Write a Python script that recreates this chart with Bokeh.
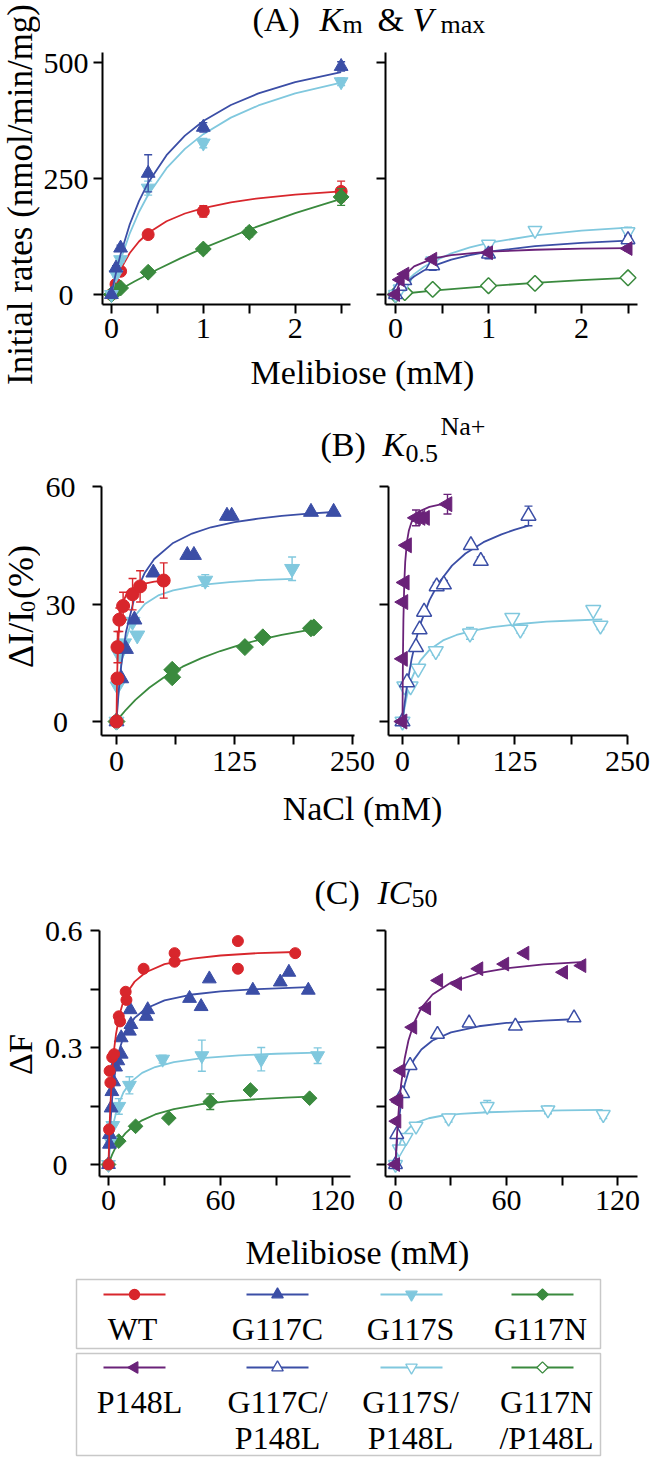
import math
from bokeh.plotting import figure
from bokeh.layouts import row, column
from bokeh.models import Range1d, FixedTicker
from bokeh.core.properties import value
from bokeh.embed import file_html
from bokeh.resources import INLINE

SERIF = "Liberation Serif"
RED = "#d8262c"
BLUE = "#3b4ea6"
LBLUE = "#80c8de"
GREEN = "#3a8a3e"
PURPLE = "#6a2279"

# ---------------- (A) Km & Vmax ----------------
A_xticks = [0, 1, 2]
A_xminor = [0.5, 1.5, 2.5]
A_yticks = [0, 250, 500]
A_ylabels = ["0\u00a0\u00a0", "250", "500"]

A_wt_x = [0, 0.05, 0.1, 0.4, 1.0, 2.5]
A_wt_y = [0, 22, 50, 129, 179, 222]
A_wt_e = [0, 4, 5, 8, 12, 22]
A_wt_fx = [0, 0.025, 0.05, 0.1, 0.2, 0.3, 0.4, 0.6, 0.8, 1.0, 1.3, 1.6, 2.0, 2.5]
A_wt_fy = [0, 16.1, 30.4, 54.3, 89.5, 114.2, 132.5, 157.7, 174.4, 186.1, 198.5, 207.1, 215.2, 222.1]

A_c_x = [0, 0.05, 0.1, 0.4, 1.0, 2.5]
A_c_y = [0, 57, 100, 261, 360, 491]
A_c_e = [0, 5, 6, 40, 10, 10]
A_c_fx = [0, 0.025, 0.05, 0.1, 0.2, 0.3, 0.4, 0.6, 0.8, 1.0, 1.3, 1.6, 2.0, 2.5]
A_c_fy = [0, 24.4, 46.8, 86.8, 151.3, 201.1, 240.8, 300, 342, 373.4, 408, 433, 457.4, 478.9]

A_s_x = [0, 0.05, 0.1, 0.4, 1.0, 2.5]
A_s_y = [0, 43, 75, 229, 326, 458]
A_s_e = [0, 5, 5, 15, 10, 8]
A_s_fx = [0, 0.025, 0.05, 0.1, 0.2, 0.3, 0.4, 0.6, 0.8, 1.0, 1.3, 1.6, 2.0, 2.5]
A_s_fy = [0, 20.6, 39.7, 74.4, 131.8, 177.6, 214.8, 271.9, 313.5, 345.2, 380.8, 407, 432.8, 456]

A_n_x = [0, 0.05, 0.1, 0.4, 1.0, 1.5, 2.5]
A_n_y = [0, 7, 14, 48, 98, 134, 210]
A_n_e = [0, 2, 3, 4, 8, 10, 18]
A_n_fx = [0, 0.1, 0.25, 0.5, 0.75, 1.0, 1.5, 2.0, 2.5]
A_n_fy = [0, 11.5, 28, 53.8, 77.8, 100, 140, 175, 205.9]

A_p_x = [0, 0.05, 0.1, 0.4, 1.0, 2.5]
A_p_y = [0, 32, 44, 76, 90, 99]
A_p_e = [0, 3, 3, 5, 5, 5]
A_p_fx = [0, 0.02, 0.05, 0.1, 0.2, 0.4, 0.6, 1.0, 1.5, 2.0, 2.5]
A_p_fy = [0, 12.5, 26.5, 42.4, 60.6, 77.1, 84.8, 92.2, 96.4, 98.6, 100]

A_cp_x = [0, 0.05, 0.1, 0.4, 1.0, 2.5]
A_cp_y = [0, 18, 30, 62, 87, 118]
A_cp_e = [0, 4, 4, 10, 10, 8]
A_cp_fx = [0, 0.05, 0.1, 0.2, 0.3, 0.4, 0.6, 0.8, 1.0, 1.5, 2.0, 2.5]
A_cp_fy = [0, 12.3, 22.6, 38.9, 51.2, 60.9, 75, 84.8, 92.1, 104, 111.1, 115.9]

A_sp_x = [0, 0.05, 0.1, 0.4, 1.0, 1.5, 2.5]
A_sp_y = [0, 12, 24, 72, 108, 138, 135]
A_sp_e = [0, 3, 4, 6, 8, 4, 10]
A_sp_fx = [0, 0.05, 0.1, 0.2, 0.3, 0.4, 0.6, 0.8, 1.0, 1.5, 2.0, 2.5]
A_sp_fy = [0, 13.4, 25, 43.9, 58.7, 70.6, 88.5, 101.4, 111.1, 127.4, 137.4, 144.2]

A_np_x = [0, 0.1, 0.4, 1.0, 1.5, 2.5]
A_np_y = [0, 4, 11, 19, 24, 36]
A_np_e = [0, 2, 2, 4, 3, 3]
A_np_fx = [0, 0.1, 0.4, 1.0, 1.5, 2.0, 2.5]
A_np_fy = [0, 2.2, 8.2, 18.2, 25, 30.8, 35.7]

# ---------------- (B) K0.5 Na+ ----------------
B_xticks = [0, 125, 250]
B_xminor = [62.5, 187.5]
B_yticks = [0, 30, 60]
B_ylabels = ["0\u00a0", "30", "60"]

B_wt_x = [0, 1, 1, 3, 7, 17, 25, 50]
B_wt_y = [0, 11, 19, 26, 29.5, 32.5, 34.5, 36]
B_wt_e = [0, 1, 4, 3, 3.5, 4, 4, 4.5]
B_wt_fx = [0, 0.25, 0.5, 1, 2, 3, 5, 7, 10, 15, 20, 30, 40, 50]
B_wt_fy = [0, 5.3, 9.25, 14.8, 21.1, 24.7, 28.5, 30.5, 32.2, 33.6, 34.4, 35.2, 35.7, 35.9]

B_c_x = [0, 5, 10, 19, 39, 75, 82, 117, 122, 206, 230]
B_c_y = [0, 11, 18.5, 26, 38, 42.5, 42.5, 52.5, 52.5, 53.5, 53.5]
B_c_fx = [0, 1, 2.5, 5, 10, 20, 30, 40, 60, 80, 100, 125, 150, 175, 200, 230]
B_c_fy = [0, 3.56, 8.14, 14.25, 22.8, 32.6, 38, 41.5, 45.6, 48, 49.6, 50.9, 51.8, 52.5, 53, 53.5]

B_s_x = [0, 1, 3, 8, 17, 22, 94, 186]
B_s_y = [0, 9, 17, 20, 25.5, 22, 36, 39]
B_s_e = [0, 0, 0, 0, 0, 0, 1.5, 3]
B_s_fx = [0, 1, 2.5, 5, 10, 15, 20, 30, 45, 60, 90, 120, 150, 186]
B_s_fy = [0, 4.2, 9.05, 14.6, 21.1, 24.8, 27.1, 30, 32.3, 33.5, 34.9, 35.6, 36.1, 36.4]

B_n_x = [0, 59, 59, 136, 155, 206, 209]
B_n_y = [0, 13.2, 11.3, 19, 21.5, 23.8, 24]
B_n_fx = [0, 5, 10, 20, 35, 50, 70, 90, 110, 130, 150, 175, 200, 209]
B_n_fy = [0, 1.57, 3, 5.54, 8.69, 11.25, 14, 16.2, 18, 19.5, 20.8, 22.1, 23.2, 23.6]

B_p_x = [0, 0.5, 1, 2.5, 5, 15, 20, 25, 50]
B_p_y = [0, 16, 30.5, 35.5, 45, 52, 52, 52, 55.5]
B_p_e = [0, 0, 0, 0, 0, 2, 0, 0, 2.5]
B_p_fx = [0, 0.25, 0.5, 1, 2, 3, 5, 7, 10, 15, 20, 30, 40, 50]
B_p_fy = [0, 9.8, 16.8, 25.9, 35.6, 40.7, 46, 48.7, 50.9, 52.8, 53.8, 54.8, 55.3, 55.7]

B_cp_x = [0, 5, 15, 19, 24, 38, 46, 76, 87, 140]
B_cp_y = [0, 10, 19, 23.5, 28, 34.5, 35, 45, 41, 52.5]
B_cp_e = [0, 0, 0, 0, 0, 1, 1, 0, 1, 2.5]
B_cp_fx = [0, 2, 5, 10, 15, 20, 30, 40, 55, 70, 90, 110, 125, 140]
B_cp_fy = [0, 4, 9.1, 15.8, 20.9, 25, 31, 35.3, 39.8, 42.9, 45.8, 47.8, 49, 50]

B_sp_x = [0, 2, 9, 17.5, 37, 75, 122, 131, 212, 220]
B_sp_y = [0, 9, 9, 13.5, 18, 22.5, 26.5, 23.5, 28.5, 24.5]
B_sp_e = [0, 0, 0, 0, 1, 1.5, 0, 1, 0, 1]
B_sp_fx = [0, 2, 5, 10, 15, 20, 30, 45, 60, 80, 100, 130, 160, 190, 222]
B_sp_fy = [0, 3.1, 6.7, 10.8, 13.5, 15.6, 18.3, 20.7, 22.1, 23.3, 24.1, 24.9, 25.5, 25.8, 26.1]

# ---------------- (C) IC50 ----------------
C_xticks = [0, 60, 120]
C_xminor = [30, 90]
C_yticks = [0, 0.3, 0.6]
C_yminor = [0.15, 0.45]
C_ylabels = ["0\u00a0\u00a0", "0.3", "0.6"]

C_wt_x = [0, 0.3, 0.6, 1, 2, 3, 5.5, 6.2, 9.2, 9.6, 18.8, 35.4, 35.4, 69.3, 69.3, 100]
C_wt_y = [0, 0.09, 0.24, 0.21, 0.275, 0.283, 0.38, 0.367, 0.443, 0.422, 0.502, 0.542, 0.52, 0.573, 0.502, 0.542]
C_wt_fx = [0, 0.5, 1, 2, 3, 4, 6, 8, 10, 14, 20, 30, 45, 60, 80, 100]
C_wt_fy = [0, 0.0875, 0.151, 0.238, 0.295, 0.334, 0.386, 0.419, 0.441, 0.469, 0.493, 0.514, 0.528, 0.536, 0.542, 0.545]

C_c_x = [0, 0.5, 0.5, 1.4, 1.8, 2.7, 3.8, 5, 6.8, 6.8, 11.2, 12, 11.6, 20.2, 21, 43.4, 49.6, 54, 77.3, 92, 96.6, 107]
C_c_y = [0, 0.052, 0.077, 0.145, 0.187, 0.212, 0.25, 0.266, 0.283, 0.325, 0.342, 0.359, 0.397, 0.38, 0.397, 0.426, 0.405, 0.476, 0.447, 0.468, 0.493, 0.447]
C_c_fx = [0, 0.5, 1, 2, 3, 4, 6, 8, 10, 14, 20, 30, 45, 60, 80, 107]
C_c_fy = [0, 0.059, 0.104, 0.171, 0.217, 0.251, 0.297, 0.327, 0.348, 0.376, 0.4, 0.421, 0.436, 0.444, 0.45, 0.455]

C_s_x = [0, 1, 2.3, 5.5, 11.2, 29, 50, 81.8, 112]
C_s_y = [0, 0.06, 0.1, 0.149, 0.203, 0.27, 0.279, 0.27, 0.279]
C_s_e = [0, 0, 0, 0.02, 0.022, 0.01, 0.04, 0.03, 0.02]
C_s_fx = [0, 0.5, 1, 2, 3, 5, 8, 12, 18, 25, 35, 50, 70, 90, 112]
C_s_fy = [0, 0.027, 0.05, 0.086, 0.1125, 0.15, 0.185, 0.212, 0.235, 0.25, 0.2625, 0.273, 0.28, 0.284, 0.287]

C_n_x = [0, 5.5, 14.5, 32.3, 54.5, 76, 107.7]
C_n_y = [0, 0.06, 0.098, 0.119, 0.161, 0.191, 0.17]
C_n_e = [0, 0, 0, 0, 0.02, 0, 0]
C_n_fx = [0, 1, 2, 4, 6, 9, 13, 18, 25, 35, 50, 65, 80, 95, 108]
C_n_fy = [0, 0.0139, 0.026, 0.0459, 0.0616, 0.0798, 0.0975, 0.1132, 0.1283, 0.1422, 0.1548, 0.1625, 0.1677, 0.1715, 0.174]

C_p_x = [0, 0.7, 1, 1.8, 3, 9.3, 16.8, 23.3, 33.5, 45, 59, 69.9, 90.8, 100.7]
C_p_y = [0, 0.111, 0.166, 0.161, 0.241, 0.352, 0.401, 0.472, 0.464, 0.502, 0.514, 0.542, 0.493, 0.51]
C_p_fx = [0, 0.5, 1, 2, 3, 5, 7, 10, 14, 20, 30, 45, 60, 80, 100]
C_p_fy = [0, 0.0495, 0.0908, 0.156, 0.204, 0.2725, 0.318, 0.363, 0.402, 0.436, 0.467, 0.4905, 0.503, 0.513, 0.519]

C_cp_x = [0, 0.7, 3.9, 7.9, 22.7, 39.8, 64.8, 96.5]
C_cp_y = [0, 0.077, 0.182, 0.254, 0.334, 0.363, 0.355, 0.376]
C_cp_fx = [0, 0.5, 1, 2, 3, 5, 7, 10, 14, 20, 30, 45, 60, 80, 96]
C_cp_fy = [0, 0.039, 0.0709, 0.12, 0.156, 0.205, 0.237, 0.269, 0.295, 0.318, 0.339, 0.3545, 0.363, 0.369, 0.3725]

C_sp_x = [0, 2, 5.7, 11.1, 28.7, 49.6, 82.4, 112.3]
C_sp_y = [0, 0.04, 0.069, 0.098, 0.119, 0.149, 0.14, 0.128]
C_sp_e = [0, 0, 0, 0, 0.01, 0.015, 0.01, 0.01]
C_sp_fx = [0, 0.5, 1, 2, 3, 5, 8, 12, 18, 25, 35, 50, 70, 90, 112]
C_sp_fy = [0, 0.0161, 0.029, 0.0483, 0.0621, 0.0806, 0.0967, 0.1088, 0.1186, 0.125, 0.130, 0.134, 0.137, 0.1388, 0.14]

# ---------------- legend ----------------
legend_row1 = [["WT"], ["G117C"], ["G117S"], ["G117N"]]
legend_row2 = [["P148L"], ["G117C/", "P148L"], ["G117S/", "P148L"], ["G117N", "/P148L"]]

ST_WT = ("circle", 0.0, False, RED)
ST_C = ("triangle", 0.0, False, BLUE)
ST_S = ("inverted_triangle", 0.0, False, LBLUE)
ST_N = ("square", math.pi / 4, False, GREEN)
ST_P = ("triangle", math.pi / 2, False, PURPLE)
ST_CP = ("triangle", 0.0, True, BLUE)
ST_SP = ("inverted_triangle", 0.0, True, LBLUE)
ST_NP = ("square", math.pi / 4, True, GREEN)


def msize(style, base):
    m = style[0]
    if m == "circle":
        return base
    if m == "square":
        return base * 0.8
    return base * 1.15


def draw(p, px, py, pe, fx, fy, style, base):
    marker, angle, is_open, color = style
    p.line(fx, fy, line_color=color, line_width=1.8)
    if pe is not None:
        ex = [x for x, e in zip(px, pe) if e > 0]
        lo = [y - e for y, e in zip(py, pe) if e > 0]
        hi = [y + e for y, e in zip(py, pe) if e > 0]
        if ex:
            p.segment(x0=ex, y0=lo, x1=ex, y1=hi, line_color=color, line_width=1.4)
            p.scatter(ex + ex, lo + hi, marker="dash", size=8, line_color=color, line_width=1.4)
    p.scatter(px, py, marker=marker, size=msize(style, base), angle=angle,
              fill_color="white" if is_open else color, line_color=color,
              line_width=1.5 if is_open else 1.0)


def panel(w, h, xr, yr, bl, br, bt, bb, xt, xm, yt, ym, ylabels, xstand, ystand):
    p = figure(width=w, height=h, x_range=Range1d(*xr), y_range=Range1d(*yr),
               output_backend="svg", toolbar_location=None, title=None,
               min_border_left=bl, min_border_right=br, min_border_top=bt, min_border_bottom=bb)
    p.outline_line_color = None
    p.xgrid.visible = False
    p.ygrid.visible = False
    p.background_fill_color = "white"
    p.border_fill_color = "white"
    p.xaxis.ticker = FixedTicker(ticks=xt, minor_ticks=xm)
    p.yaxis.ticker = FixedTicker(ticks=yt, minor_ticks=ym)
    p.yaxis.major_label_overrides = {t: lab for t, lab in zip(yt, ylabels)}
    p.xaxis.major_label_overrides = {t: str(t) for t in xt}
    for ax in (p.xaxis[0], p.yaxis[0]):
        ax.axis_line_width = 2
        ax.axis_line_color = "black"
        ax.major_tick_in = 0
        ax.major_tick_out = 9
        ax.major_tick_line_width = 2
        ax.minor_tick_in = 0
        ax.minor_tick_out = 9
        ax.minor_tick_line_width = 2
        ax.major_label_text_font = SERIF
        ax.major_label_text_font_size = "30px"
        ax.major_label_text_color = "black"
    p.xaxis.major_label_standoff = xstand
    p.yaxis.major_label_standoff = ystand
    return p


def strip(x0, y0, w, h):
    p = figure(width=w, height=h, x_range=Range1d(x0, x0 + w), y_range=Range1d(y0 + h, y0),
               output_backend="svg", toolbar_location=None, title=None,
               x_axis_type=None, y_axis_type=None, min_border=0)
    p.outline_line_color = None
    p.background_fill_color = "white"
    p.border_fill_color = "white"
    return p


def txt(p, x, y, s, size, style="normal", align="left", angle=0.0):
    # (x, y) is the vertical middle of the text line
    p.text(x=[x], y=[y], text=[s], text_font=value(SERIF), text_font_size=value(f"{size}px"),
           text_font_style=value(style), text_align=align, text_baseline="middle",
           text_color="black", angle=angle)


# ================= Block A =================
ylA = strip(8, 8, 40, 396)
txt(ylA, 28, 202, "Initial rates (nmol/min/mg)", 35, align="center", angle=math.pi / 2)
tA = strip(48, 8, 610, 40)
txt(tA, 260, 27, "(A)", 34)
txt(tA, 327, 27, "K", 34, style="italic")
txt(tA, 350, 32, "m", 26)
txt(tA, 385, 27, "&", 34)
txt(tA, 420, 27, "V", 34, style="italic")
txt(tA, 448, 32, "max", 26)
pA1 = panel(328, 313, (-0.097, 2.602), (-21.5, 521), 59, 18, 12, 49,
            A_xticks, A_xminor, A_yticks, [], A_ylabels, 5, 5)
pA2 = panel(282, 313, (-0.1075, 2.602), (-21.5, 521), 17, 13, 12, 49,
            A_xticks, A_xminor, A_yticks, [], ["", "", ""], 5, 0)
draw(pA1, A_wt_x, A_wt_y, A_wt_e, A_wt_fx, A_wt_fy, ST_WT, 12)
draw(pA1, A_n_x, A_n_y, A_n_e, A_n_fx, A_n_fy, ST_N, 14)
draw(pA1, A_s_x, A_s_y, A_s_e, A_s_fx, A_s_fy, ST_S, 12)
draw(pA1, A_c_x, A_c_y, A_c_e, A_c_fx, A_c_fy, ST_C, 12)
draw(pA2, A_np_x, A_np_y, A_np_e, A_np_fx, A_np_fy, ST_NP, 14)
draw(pA2, A_sp_x, A_sp_y, A_sp_e, A_sp_fx, A_sp_fy, ST_SP, 12)
draw(pA2, A_cp_x, A_cp_y, A_cp_e, A_cp_fx, A_cp_fy, ST_CP, 12)
draw(pA2, A_p_x, A_p_y, A_p_e, A_p_fx, A_p_fy, ST_P, 12)
xlA = strip(48, 361, 610, 43)
txt(xlA, 370, 380, "Melibiose (mM)", 34, align="center")
blockA = row(ylA, column(tA, row(pA1, pA2), xlA))

# ================= Block B =================
ylB = strip(8, 404, 40, 442)
txt(ylB, 28, 675.5, "\u0394I/I", 36, angle=math.pi / 2)
txt(ylB, 35.8, 619.5, "0", 22, angle=math.pi / 2)
txt(ylB, 28, 606.5, "(%)", 36, angle=math.pi / 2)
tB = strip(48, 404, 610, 72)
txt(tB, 328, 452, "(B)", 34)
txt(tB, 390, 452, "K", 34, style="italic")
txt(tB, 413, 461, "0.5", 26)
txt(tB, 448, 434, "Na+", 26)
pB1 = panel(336, 318, (-15.9, 252.1), (-3.57, 60.01), 61, 22, 18, 51,
            B_xticks, B_xminor, B_yticks, [], B_ylabels, 7, 17)
pB2 = panel(274, 318, (-15.56, 250.05), (-3.57, 60.01), 12, 23, 18, 51,
            B_xticks, B_xminor, B_yticks, [], ["", "", ""], 7, 0)
draw(pB1, B_n_x, B_n_y, None, B_n_fx, B_n_fy, ST_N, 15)
draw(pB1, B_s_x, B_s_y, B_s_e, B_s_fx, B_s_fy, ST_S, 13)
draw(pB1, B_c_x, B_c_y, None, B_c_fx, B_c_fy, ST_C, 13)
draw(pB1, B_wt_x, B_wt_y, B_wt_e, B_wt_fx, B_wt_fy, ST_WT, 13)
draw(pB2, B_sp_x, B_sp_y, B_sp_e, B_sp_fx, B_sp_fy, ST_SP, 13)
draw(pB2, B_cp_x, B_cp_y, B_cp_e, B_cp_fx, B_cp_fy, ST_CP, 13)
draw(pB2, B_p_x, B_p_y, B_p_e, B_p_fx, B_p_fy, ST_P, 13)
xlB = strip(48, 794, 610, 52)
txt(xlB, 370, 816, "NaCl (mM)", 34, align="center")
blockB = row(ylB, column(tB, row(pB1, pB2), xlB))

# ================= Block C =================
ylC = strip(8, 846, 40, 436)
txt(ylC, 28, 1062, "\u0394F", 34, align="center", angle=math.pi / 2)
tC = strip(48, 846, 610, 75)
txt(tC, 322, 900, "(C)", 34)
txt(tC, 385, 900, "IC", 34, style="italic")
txt(tC, 419, 906, "50", 26)
pC1 = panel(328, 312, (-4.82, 129.6), (-0.0308, 0.6001), 59, 18, 17, 49,
            C_xticks, C_xminor, C_yticks, C_yminor, C_ylabels, 5, 8)
pC2 = panel(282, 312, (-5.4, 130.8), (-0.0308, 0.6001), 17, 13, 17, 49,
            C_xticks, C_xminor, C_yticks, C_yminor, ["", "", ""], 5, 0)
draw(pC1, C_n_x, C_n_y, C_n_e, C_n_fx, C_n_fy, ST_N, 13)
draw(pC1, C_s_x, C_s_y, C_s_e, C_s_fx, C_s_fy, ST_S, 12)
draw(pC1, C_c_x, C_c_y, None, C_c_fx, C_c_fy, ST_C, 12)
draw(pC1, C_wt_x, C_wt_y, None, C_wt_fx, C_wt_fy, ST_WT, 11)
draw(pC2, C_sp_x, C_sp_y, C_sp_e, C_sp_fx, C_sp_fy, ST_SP, 12)
draw(pC2, C_cp_x, C_cp_y, None, C_cp_fx, C_cp_fy, ST_CP, 12)
draw(pC2, C_p_x, C_p_y, None, C_p_fx, C_p_fy, ST_P, 12)
xlC = strip(48, 1233, 610, 49)
txt(xlC, 365, 1260, "Melibiose (mM)", 34, align="center")
blockC = row(ylC, column(tC, row(pC1, pC2), xlC))

# ================= Legend =================
lg = strip(8, 1282, 650, 183)
lg.quad(left=[84, 84], right=[608, 608], top=[1287, 1361], bottom=[1356, 1463],
        fill_color=None, line_color="#c8c8c8", line_width=1.5)
col_x = [142, 285, 419, 550]
lab1_x = [140, 285, 418, 548]
lab2_x = [147, 285, 418, 554]
styles1 = [ST_WT, ST_C, ST_S, ST_N]
styles2 = [ST_P, ST_CP, ST_SP, ST_NP]
for cx, st in zip(col_x, styles1):
    lg.segment(x0=[cx - 31], y0=[1302], x1=[cx + 31], y1=[1302], line_color=st[3], line_width=2)
    lg.scatter([cx], [1302], marker=st[0], angle=st[1], size=msize(st, 10),
               fill_color="white" if st[2] else st[3], line_color=st[3], line_width=1.3)
for cx, st in zip(col_x, styles2):
    lg.segment(x0=[cx - 31], y0=[1375], x1=[cx + 31], y1=[1375], line_color=st[3], line_width=2)
    lg.scatter([cx], [1375], marker=st[0], angle=st[1], size=msize(st, 10),
               fill_color="white" if st[2] else st[3], line_color=st[3], line_width=1.3)
for lx, lines in zip(lab1_x, legend_row1):
    txt(lg, lx, 1336, lines[0], 32, align="center")
for lx, lines in zip(lab2_x, legend_row2):
    for k, s in enumerate(lines):
        txt(lg, lx, 1409 + 36 * k, s, 32, align="center")

layout = column(blockA, blockB, blockC, lg)
open("out.html", "w").write(file_html(layout, INLINE, "Melibiose transport"))
